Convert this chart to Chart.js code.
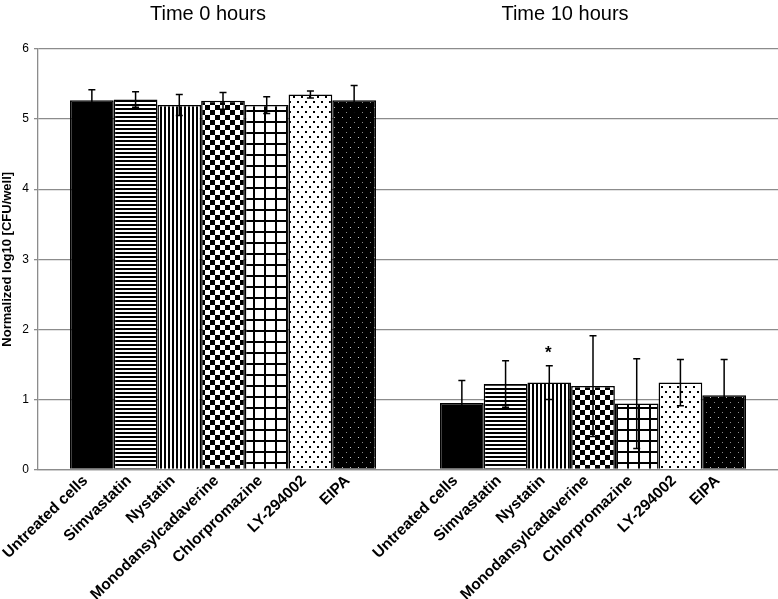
<!DOCTYPE html>
<html>
<head>
<meta charset="utf-8">
<style>
  html, body { margin: 0; padding: 0; background: #ffffff; }
  #wrap { width: 778px; height: 599px; }
  canvas { display: block; }
</style>
<script src="https://cdn.jsdelivr.net/npm/chart.js@4.4.0/dist/chart.umd.min.js"></script>
</head>
<body>
<div id="wrap"><canvas id="chart" width="778" height="599"></canvas></div>
<script>
// ---- data ----
const groups = ['Time 0 hours', 'Time 10 hours'];
const treatments = ['Untreated cells', 'Simvastatin', 'Nystatin', 'Monodansylcadaverine', 'Chlorpromazine', 'LY-294002', 'EIPA'];
const means0h = [5.27, 5.28, 5.20, 5.26, 5.20, 5.35, 5.27];
const means10h = [0.95, 1.22, 1.24, 1.19, 0.94, 1.24, 1.06];
const err0h = [0.15, 0.11, 0.15, 0.12, 0.12, 0.05, 0.21];
const err10h = [0.32, 0.33, 0.24, 0.72, 0.64, 0.33, 0.51];
const signif10h = ['', '', '*', '', '', '', ''];
const yTicks = [0, 1, 2, 3, 4, 5, 6];
const patternKinds = ['solid', 'hstripes', 'vstripes', 'checker', 'grid', 'dots', 'darkdots'];

// ---- patterns ----
function makePattern(kind) {
  const c = document.createElement('canvas');
  const ctx = c.getContext('2d');
  let w = 4, h = 4;
  if (kind === 'solid') { return '#000000'; }
  if (kind === 'hstripes') {
    w = 4; h = 4; c.width = w; c.height = h;
    ctx.fillStyle = '#fff'; ctx.fillRect(0, 0, w, h);
    ctx.fillStyle = '#000'; ctx.fillRect(0, 0, w, 2);
  } else if (kind === 'vstripes') {
    w = 4; h = 4; c.width = w; c.height = h;
    ctx.fillStyle = '#fff'; ctx.fillRect(0, 0, w, h);
    ctx.fillStyle = '#000'; ctx.fillRect(0, 0, 2, h);
  } else if (kind === 'checker') {
    w = 10; h = 10; c.width = w; c.height = h;
    ctx.fillStyle = '#fff'; ctx.fillRect(0, 0, w, h);
    ctx.fillStyle = '#000'; ctx.fillRect(0, 0, 5, 5); ctx.fillRect(5, 5, 5, 5);
  } else if (kind === 'grid') {
    w = 11; h = 11; c.width = w; c.height = h;
    ctx.fillStyle = '#fff'; ctx.fillRect(0, 0, w, h);
    ctx.fillStyle = '#000'; ctx.fillRect(0, 0, 2, h); ctx.fillRect(0, 0, w, 2);
  } else if (kind === 'dots') {
    w = 8; h = 10; c.width = w; c.height = h;
    ctx.fillStyle = '#fff'; ctx.fillRect(0, 0, w, h);
    ctx.fillStyle = '#000'; ctx.fillRect(1, 1, 2, 2); ctx.fillRect(5, 6, 2, 2);
  } else if (kind === 'darkdots') {
    w = 8; h = 10; c.width = w; c.height = h;
    ctx.fillStyle = '#000'; ctx.fillRect(0, 0, w, h);
    ctx.fillStyle = '#8a8a8a'; ctx.fillRect(2, 2, 1, 1);
    ctx.fillStyle = '#c8c8c8'; ctx.fillRect(6, 7, 1, 1);
  }
  const target = document.getElementById('chart').getContext('2d');
  return target.createPattern(c, 'repeat');
}

const datasets = treatments.map((name, i) => ({
  label: name,
  data: [means0h[i], means10h[i]],
  errors: [err0h[i], err10h[i]],
  marks: ['', signif10h[i]],
  backgroundColor: makePattern(patternKinds[i]),
  borderColor: '#000000',
  borderWidth: 1.5,
  categoryPercentage: 0.827,
  barPercentage: 1.0
}));

const FONT = '"Liberation Sans", Arial, Helvetica, sans-serif';

const decorPlugin = {
  id: 'decor',
  afterDatasetsDraw(chart) {
    const ctx = chart.ctx;
    const y = chart.scales.y;
    ctx.save();
    ctx.strokeStyle = '#000';
    ctx.lineWidth = 1.5;
    chart.data.datasets.forEach((ds, di) => {
      const meta = chart.getDatasetMeta(di);
      meta.data.forEach((el, j) => {
        const v = ds.data[j], e = ds.errors[j];
        const yTop = y.getPixelForValue(v + e);
        const yBot = y.getPixelForValue(Math.max(0, v - e));
        const x = el.x;
        ctx.beginPath();
        ctx.moveTo(x, yTop); ctx.lineTo(x, yBot);
        ctx.moveTo(x - 3.5, yTop); ctx.lineTo(x + 3.5, yTop);
        ctx.moveTo(x - 3.5, yBot); ctx.lineTo(x + 3.5, yBot);
        ctx.stroke();
        if (ds.marks[j]) {
          ctx.fillStyle = '#000';
          ctx.font = 'bold 17px ' + FONT;
          ctx.textAlign = 'center';
          ctx.textBaseline = 'middle';
          ctx.fillText(ds.marks[j], x - 1, yTop - 12);
        }
      });
    });
    ctx.restore();
  },
  afterDraw(chart) {
    const ctx = chart.ctx;
    const area = chart.chartArea;
    const xs = chart.scales.x;
    ctx.save();
    // rotated treatment labels under every bar
    ctx.fillStyle = '#000';
    ctx.font = 'bold 15.5px ' + FONT;
    ctx.textAlign = 'right';
    ctx.textBaseline = 'alphabetic';
    chart.data.datasets.forEach((ds, di) => {
      const meta = chart.getDatasetMeta(di);
      meta.data.forEach((el) => {
        ctx.save();
        ctx.translate(el.x - 3.5, area.bottom + 12);
        ctx.rotate(-44 * Math.PI / 180);
        ctx.fillText(ds.label, 0, 0);
        ctx.restore();
      });
    });
    // group titles on top
    ctx.font = '20px ' + FONT;
    ctx.textAlign = 'center';
    ctx.textBaseline = 'alphabetic';
    const shift = [-15, -28];
    groups.forEach((g, i) => {
      ctx.fillText(g, xs.getPixelForValue(i) + shift[i], 20);
    });
    ctx.restore();
  }
};

new Chart(document.getElementById('chart'), {
  type: 'bar',
  data: { labels: groups, datasets: datasets },
  options: {
    responsive: false,
    animation: false,
    devicePixelRatio: 1,
    layout: { padding: { top: 49, right: 0, bottom: 0, left: 0 } },
    plugins: { legend: { display: false }, tooltip: { enabled: false }, title: { display: false } },
    scales: {
      x: {
        grid: { display: false },
        border: { display: true, color: '#8c8c8c', width: 1.3 },
        ticks: { display: false },
        afterFit(scale) { scale.height = 129.5; }
      },
      y: {
        min: 0,
        max: 6,
        afterBuildTicks(scale) { scale.ticks = yTicks.map(v => ({ value: v })); },
        grid: { color: '#8c8c8c', lineWidth: 1.3, tickLength: 4, drawTicks: true },
        border: { display: true, color: '#8c8c8c', width: 1.3 },
        ticks: { color: '#000', font: { family: FONT, size: 12 }, padding: 5 },
        title: {
          display: true,
          text: 'Normalized log10 [CFU/well]',
          color: '#000',
          font: { family: FONT, size: 13, weight: 'bold' },
          padding: { top: 0, bottom: 0 }
        },
        afterFit(scale) { scale.width = 38; }
      }
    }
  },
  plugins: [decorPlugin]
});
</script>
</body>
</html>
